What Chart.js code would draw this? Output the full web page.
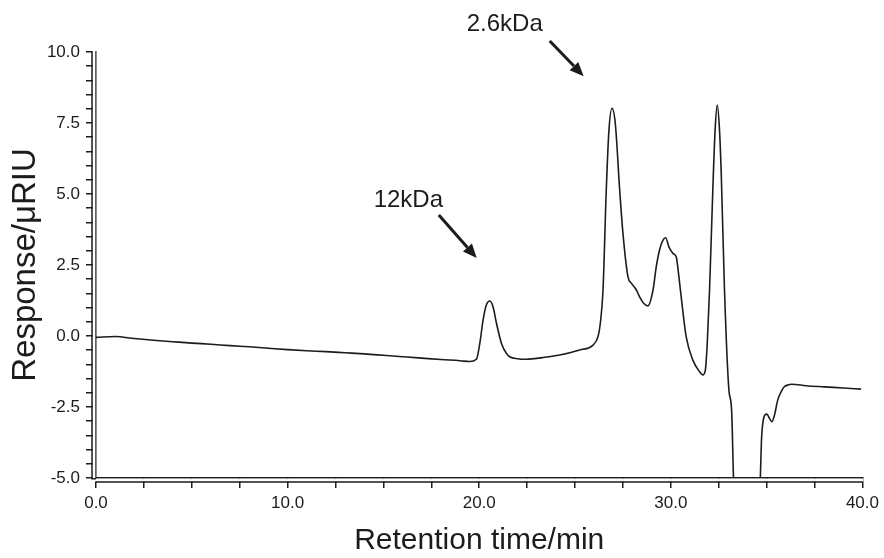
<!DOCTYPE html>
<html>
<head>
<meta charset="utf-8">
<script src="https://cdn.jsdelivr.net/npm/chart.js@4.4.1/dist/chart.umd.min.js"></script>
<style>
html,body{margin:0;padding:0;background:#fff;}
#wrap{width:884px;height:558px;}
</style>
</head>
<body>
<div id="wrap"><canvas id="c" width="884" height="558"></canvas></div>
<script>
// ---- data ----
const retentionTime = [0,1,2,3,4,5,6,7,8,9,10,11,12,13,14,15,16,17,18,19,19.5,19.85,
  20.03,20.2,20.37,20.55,20.72,20.9,21.16,21.42,21.59,22.0,22.46,23.3,24.2,25.24,25.94,
  26.2,26.32,26.46,26.63,26.77,26.93,27.1,27.33,27.5,27.76,27.94,28.2,28.37,28.58,28.8,
  29.07,29.24,29.41,29.59,29.73,29.9,30.11,30.28,30.42,30.54,30.8,31.15,31.5,31.67,31.8,
  31.9,32.02,32.19,32.31,32.42,32.54,32.63,32.8,33.03,33.17,33.27,33.35,34.6,34.67,34.73,
  34.8,34.91,35.01,35.15,35.27,35.41,35.58,35.76,35.93,36.1,36.3,37.06,38.0,39.0,39.93];
const response = [-0.05,-0.02,-0.09,-0.15,-0.2,-0.25,-0.29,-0.34,-0.38,-0.43,-0.48,-0.52,-0.55,-0.59,-0.63,-0.68,-0.73,-0.78,-0.83,-0.87,-0.9,-0.82,
  -0.26,0.56,1.09,1.23,1.03,0.45,-0.26,-0.61,-0.73,-0.8,-0.82,-0.76,-0.67,-0.49,-0.32,
  -0.02,0.45,1.62,5.14,7.25,8.02,7.49,5.14,3.62,2.09,1.86,1.62,1.38,1.15,1.06,
  1.62,2.44,3.03,3.38,3.46,3.14,2.91,2.79,2.09,1.38,-0.02,-0.85,-1.26,-1.37,-1.2,
  -0.26,1.62,5.14,7.25,8.13,7.25,5.73,1.62,-1.9,-2.6,-5.0,-6.5,-6.5,-5.0,-3.66,
  -3.07,-2.78,-2.75,-2.9,-3.02,-2.78,-2.25,-1.96,-1.78,-1.73,-1.7,-1.75,-1.79,-1.83,-1.87];

const xMin = 0, xMax = 40, xStep = 2.5, xLabelEvery = 10;
const yMin = -5, yMax = 10, yStep = 0.5, yLabelEvery = 2.5;
const xTitle = 'Retention time/min';
const yTitle = 'Response/μRIU';

// annotations (data coordinates)
const annoText = ['12kDa', '2.6kDa'];
const annoTextX = [16.3, 21.33];
const annoTextY = [4.79, 10.99];
const arrowFromX = [17.89, 23.68];
const arrowFromY = [4.26, 10.39];
const arrowToX = [19.87, 25.45];
const arrowToY = [2.75, 9.15];

const INK = '#1c1c1c';
const points = retentionTime.map((t, i) => ({x: t, y: response[i]}));

const axisExtras = {
  id: 'axisExtras',
  afterDraw(chart) {
    const {ctx, chartArea: a} = chart;
    ctx.save();
    // gap between double lines
    ctx.fillStyle = '#fff';
    ctx.fillRect(a.left - 3.3, a.top - 1, 2.6, a.bottom - a.top + 2);
    ctx.fillRect(a.left - 1, a.bottom + 0.8, a.right - a.left + 2, 2.6);
    ctx.strokeStyle = INK;
    ctx.lineWidth = 1.5;
    ctx.beginPath();
    ctx.moveTo(a.left - 4, a.top);
    ctx.lineTo(a.left - 4, a.bottom + 0.75);
    ctx.lineTo(a.left, a.bottom + 0.75);
    ctx.moveTo(a.left, a.bottom + 4);
    ctx.lineTo(a.right, a.bottom + 4);
    ctx.stroke();
    // annotations
    const xs = chart.scales.x, ys = chart.scales.y;
    ctx.fillStyle = INK;
    ctx.font = '24px "Liberation Sans", Arial, sans-serif';
    ctx.textAlign = 'center';
    ctx.textBaseline = 'middle';
    annoText.forEach((txt, i) => {
      ctx.fillText(txt, xs.getPixelForValue(annoTextX[i]), ys.getPixelForValue(annoTextY[i]));
      const x1 = xs.getPixelForValue(arrowFromX[i]), y1 = ys.getPixelForValue(arrowFromY[i]);
      const x2 = xs.getPixelForValue(arrowToX[i]), y2 = ys.getPixelForValue(arrowToY[i]);
      const ang = Math.atan2(y2 - y1, x2 - x1);
      const hl = 14, hw = 6;
      const bx = x2 - hl * Math.cos(ang), by = y2 - hl * Math.sin(ang);
      ctx.lineWidth = 3;
      ctx.beginPath();
      ctx.moveTo(x1, y1);
      ctx.lineTo(bx, by);
      ctx.stroke();
      ctx.beginPath();
      ctx.moveTo(x2, y2);
      ctx.lineTo(bx + hw * Math.sin(ang), by - hw * Math.cos(ang));
      ctx.lineTo(bx - hw * Math.sin(ang), by + hw * Math.cos(ang));
      ctx.closePath();
      ctx.fill();
    });
    ctx.restore();
  }
};

const tickFont = {family: '"Liberation Sans", Arial, sans-serif', size: 17};

new Chart(document.getElementById('c'), {
  type: 'line',
  data: {
    datasets: [{
      data: points,
      borderColor: INK,
      borderWidth: 1.6,
      pointRadius: 0,
      fill: false,
      cubicInterpolationMode: 'monotone',
      clip: 0
    }]
  },
  options: {
    responsive: false,
    animation: false,
    layout: {padding: {top: 52, right: 21, left: 0, bottom: 0}},
    plugins: {legend: {display: false}, tooltip: {enabled: false}},
    scales: {
      x: {
        type: 'linear', min: xMin, max: xMax,
        afterFit(s) { s.height = 80; },
        ticks: {
          stepSize: xStep, autoSkip: false, maxRotation: 0, color: INK, font: tickFont, padding: 5,
          callback: v => (Math.abs(v / xLabelEvery - Math.round(v / xLabelEvery)) < 1e-6) ? v.toFixed(1) : ''
        },
        grid: {drawOnChartArea: false, drawTicks: true, tickLength: 10, color: INK, lineWidth: 1.5},
        border: {display: true, color: INK, width: 1.5},
        title: {display: true, text: xTitle, color: INK,
          font: {family: '"Liberation Sans", Arial, sans-serif', size: 30, lineHeight: 1},
          padding: {top: 0, bottom: 2}}
      },
      y: {
        type: 'linear', min: yMin, max: yMax,
        afterFit(s) { s.width = 96; },
        ticks: {
          stepSize: yStep, autoSkip: false, color: INK, font: tickFont, padding: 6,
          callback: v => (Math.abs(v / yLabelEvery - Math.round(v / yLabelEvery)) < 1e-6) ? (Math.round(v * 10) / 10).toFixed(1) : ''
        },
        grid: {drawOnChartArea: false, drawTicks: true, tickLength: 10, color: INK, lineWidth: 1.5},
        border: {display: true, color: INK, width: 1.5},
        title: {display: true, text: yTitle, color: INK,
          font: {family: '"Liberation Sans", Arial, sans-serif', size: 33, lineHeight: 1.2},
          padding: {top: 6, bottom: 0}}
      }
    }
  },
  plugins: [axisExtras]
});
</script>
</body>
</html>
